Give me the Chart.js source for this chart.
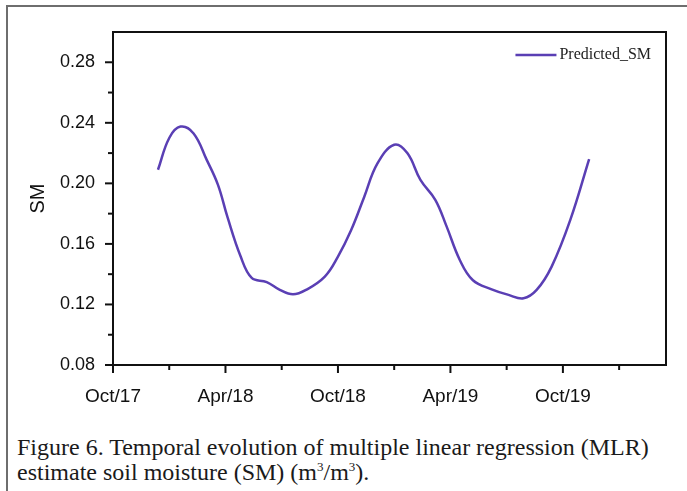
<!DOCTYPE html>
<html>
<head>
<meta charset="utf-8">
<script src="https://cdn.jsdelivr.net/npm/chart.js@4.4.1/dist/chart.umd.min.js"></script>
<style>
  html, body { margin: 0; padding: 0; background: #fff; }
  body { width: 687px; height: 491px; position: relative; overflow: hidden; }
  #frame {
    position: absolute; left: 6px; top: 5px; right: 0; bottom: 0;
    border-left: 2px solid #6e6e6e; border-top: 2px solid #6e6e6e;
  }
  #wrap { position: absolute; left: 0; top: 0; width: 687px; height: 430px; }
  #caption {
    position: absolute; left: 17px; top: 435px;
    font-family: "Liberation Serif", "Times New Roman", serif;
    font-size: 24px; line-height: 25px; color: #1a1a1a;
    white-space: nowrap;
  }
  #caption sup { font-size: 13px; vertical-align: 9px; line-height: 0; }
</style>
</head>
<body>
<div id="frame"></div>
<div id="wrap"><canvas id="smChart" width="687" height="430"></canvas></div>
<div id="caption">Figure 6. Temporal evolution of multiple linear regression (MLR)<br>estimate soil moisture (SM) (m<sup>3</sup>/m<sup>3</sup>).</div>

<script>
// months counted from Oct/17
const months = [2.4, 3.0, 3.6, 4.3, 5.0, 5.6, 6.1, 6.8, 7.4, 8.2, 8.9, 9.6, 10.3, 11.3, 12.0, 12.7,
  13.4, 14.1, 15.0, 15.7, 16.4, 17.2, 17.8, 18.5, 19.2, 20.2, 21.1, 21.9, 22.6, 23.4, 24.4, 25.4];
const predictedSM = [0.209, 0.230, 0.2375, 0.233, 0.2155, 0.199, 0.178, 0.152, 0.1375, 0.1348, 0.1296, 0.1267,
  0.1296, 0.1384, 0.1516, 0.169, 0.191, 0.213, 0.2255, 0.220, 0.2023, 0.189, 0.1714, 0.1494, 0.136,
  0.130, 0.1263, 0.1241, 0.1296, 0.145, 0.176, 0.216];
const xTickLabels = ["Oct/17", "Apr/18", "Oct/18", "Apr/19", "Oct/19"];

const lineColor = "#5a3fb4";

// major / minor tick marks pointing outward, the box round the plot, and the legend
const frameTicks = {
  id: "frameTicks",
  afterDraw(chart) {
    const { ctx, chartArea: a, scales } = chart;
    ctx.save();
    ctx.strokeStyle = "#111";
    ctx.lineWidth = 2;
    ctx.strokeRect(a.left, a.top, a.right - a.left, a.bottom - a.top);

    scales.x.ticks.forEach(t => {
      if (t.value > scales.x.max) return;
      const px = scales.x.getPixelForValue(t.value);
      const len = t.value % 6 === 0 ? 8 : 5;
      ctx.beginPath();
      ctx.moveTo(px, a.bottom);
      ctx.lineTo(px, a.bottom + len);
      ctx.stroke();
    });
    scales.y.ticks.forEach(t => {
      if (t.value >= scales.y.max - 1e-9) return;
      const py = scales.y.getPixelForValue(t.value);
      const len = Math.round(t.value * 100) % 4 === 0 ? 8 : 5;
      ctx.beginPath();
      ctx.moveTo(a.left, py);
      ctx.lineTo(a.left - len, py);
      ctx.stroke();
    });

    // legend in the top right corner of the plot
    const ds = chart.data.datasets[0];
    const ly = a.top + 23;
    const textRight = a.right - 15;
    ctx.font = "16px 'Liberation Serif', serif";
    const tw = ctx.measureText(ds.label).width;
    ctx.strokeStyle = ds.borderColor;
    ctx.lineWidth = ds.borderWidth;
    ctx.beginPath();
    ctx.moveTo(textRight - tw - 44, ly);
    ctx.lineTo(textRight - tw - 3, ly);
    ctx.stroke();
    ctx.fillStyle = "#222";
    ctx.textBaseline = "middle";
    ctx.fillText(ds.label, textRight - tw, ly);
    ctx.restore();
  }
};

new Chart(document.getElementById("smChart").getContext("2d"), {
  type: "line",
  data: {
    datasets: [{
      label: "Predicted_SM",
      data: months.map((m, i) => ({ x: m, y: predictedSM[i] })),
      borderColor: lineColor,
      backgroundColor: lineColor,
      borderWidth: 2.5,
      pointRadius: 0,
      fill: false,
      tension: 0.4
    }]
  },
  options: {
    responsive: false,
    animation: false,
    layout: { padding: { left: 0, top: 32, right: 21, bottom: 0 } },
    plugins: {
      tooltip: { enabled: false },
      legend: { display: false }
    },
    scales: {
      x: {
        type: "linear",
        min: 0,
        max: 29.5,
        grid: { display: false, drawTicks: false },
        border: { display: true, color: "#111", width: 2 },
        ticks: {
          stepSize: 3,
          includeBounds: false,
          autoSkip: false,
          maxRotation: 0,
          padding: 20,
          color: "#111",
          font: { family: "'Liberation Sans', Arial, sans-serif", size: 19 },
          callback: v => (v % 6 === 0 && xTickLabels[v / 6]) ? xTickLabels[v / 6] : ""
        },
        afterFit: s => { s.height = 65; }
      },
      y: {
        min: 0.08,
        max: 0.30,
        grid: { display: false, drawTicks: false },
        border: { display: true, color: "#111", width: 2 },
        title: {
          display: true,
          text: "SM",
          color: "#111",
          padding: { top: 26, bottom: 0 },
          font: { family: "'Liberation Sans', Arial, sans-serif", size: 20 }
        },
        ticks: {
          stepSize: 0.02,
          autoSkip: false,
          padding: 18,
          color: "#111",
          font: { family: "'Liberation Sans', Arial, sans-serif", size: 18 },
          callback: v => Math.round(v * 100) % 4 === 0 ? v.toFixed(2) : ""
        },
        afterFit: s => { s.width = 113; }
      }
    }
  },
  plugins: [frameTicks]
});
</script>
</body>
</html>
